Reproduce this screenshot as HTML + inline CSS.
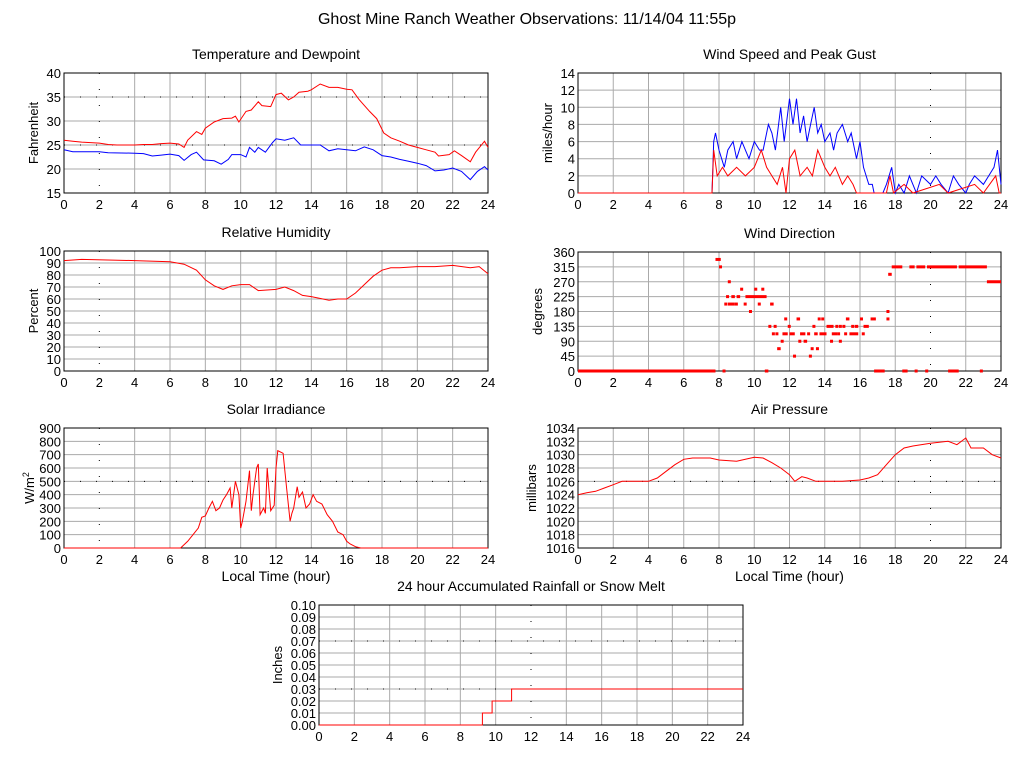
<!DOCTYPE html>
<html><head><meta charset="utf-8"><style>
body{margin:0;background:#fff;}
svg{display:block;font-family:"Liberation Sans",sans-serif;}
</style></head><body>
<svg id="s" width="1024" height="768">
<text x="527" y="24" font-size="16" text-anchor="middle">Ghost Mine Ranch Weather Observations: 11/14/04 11:55p</text>
</svg>
<script>
const tempHours=[0,.5,1,1.5,2,2.5,3,3.5,4,4.5,5,5.5,6,6.5,6.8,7,7.5,7.8,8,8.5,9,9.5,9.7,9.9,10.3,10.6,11,11.2,11.7,12,12.3,12.7,13,13.3,13.8,14,14.5,15,15.5,16,16.3,16.7,17.3,17.7,18.1,18.5,19,19.5,20,20.5,21,21.2,21.8,22.1,22.5,23,23.3,23.8,24];
const tempVals=[26,25.8,25.6,25.5,25.4,25.1,25,25,25,25.1,25.1,25.3,25.4,25.2,24.5,26,27.8,27.2,28.5,29.8,30.5,30.6,31,29.8,32,32.3,34,33.2,33,35.5,35.8,34.4,35,36,36.2,36.5,37.7,37,37,36.6,36.5,34.5,32,30.5,27.5,26.5,25.8,25,24.5,24,23.5,22.7,23,23.8,22.8,21.5,23.5,25.8,24.5];
const dewHours=[0,.5,1,2,2.5,4,4.5,5,5.5,6,6.5,6.8,7.2,7.5,7.9,8.5,8.9,9.3,9.5,10,10.3,10.5,10.8,11,11.4,11.8,12,12.5,13,13.4,14,14.5,15,15.5,16,16.5,17,17.5,18,18.5,19,19.5,20,20.5,21,21.5,22,22.5,23,23.4,23.8,24];
const dewVals=[24,23.6,23.6,23.6,23.4,23.3,23.2,22.7,22.9,23.1,22.8,21.8,23,23.5,21.9,21.7,21,22,23,23,22.5,24.5,23.5,24.5,23.5,25.5,26.3,26,26.5,25,25,25,23.8,24.2,24,23.8,24.6,24,22.8,22.5,22,21.6,21.2,20.7,19.6,19.8,20.2,19.5,17.8,19.5,20.5,19.8];
const rhHours=[0,1,4,6,6.8,7.5,8,8.5,9,9.5,10,10.5,11,12,12.5,13,13.5,14,15,15.5,16,16.5,17,17.5,18,18.5,19,20,21,22,23,23.5,24];
const rhVals=[92,93,92,91,89,84,76,71,68,71,72,72,67,68,70,67,63,62,59,60,60,65,72,79,84,86,86,87,87,88,86,87,81];
const gustHours=[0,7.6,7.7,7.8,8,8.3,8.5,8.8,9,9.3,9.5,9.7,10,10.3,10.5,10.8,11,11.2,11.5,11.7,12,12.2,12.4,12.6,12.8,13,13.2,13.4,13.6,13.8,14,14.3,14.5,14.7,15,15.3,15.5,15.8,16,16.2,16.5,16.7,16.8,17.3,17.5,17.8,18,18.2,18.5,18.8,19,19.2,19.5,20,20.3,20.6,21,21.3,21.6,22,22.2,22.5,23,23.3,23.6,23.8,24];
const gustVals=[0,0,6,7,5,3,5,6,4,6,5,4,6,5,5,8,7,5,10,6,11,8,11,7,9,6,8,10,7,8,6,7,5,7,8,6,7,4,6,3,1,1,0,0,1,3,0,1,0,2,1,0,2,1,2,1,0,2,1,0,1,2,1,2,3,5,1];
const speedHours=[0,7.6,7.7,7.9,8.2,8.5,9,9.5,10,10.4,10.7,11,11.3,11.6,11.8,12,12.3,12.6,13,13.3,13.6,14,14.3,14.6,15,15.3,15.6,15.8,17.5,17.7,17.9,18.5,19,20.5,21,22.5,23,23.7,23.9,24];
const speedVals=[0,0,5,2,3,2,3,2,3,5,3,2,1,3,0,4,5,2,3,2,5,3,2,3,1,2,1,0,0,2,0,1,0,1,0,1,0,2,0,0];
const dirStart=[0,7.8,8,8.2,8.3,8.4,8.5,8.5,8.7,8.9,9,9.2,9.4,9.5,9.7,10,10.2,10.4,10.6,10.8,10.9,11,11.1,11.2,11.3,11.5,11.6,11.7,11.9,12,12.2,12.4,12.5,12.6,12.8,13,13.1,13.2,13.3,13.4,13.5,13.6,13.7,13.8,14.1,14.3,14.4,14.6,14.7,14.8,14.8,15,15.1,15.2,15.4,15.5,15.7,16,16.1,16.2,16.6,16.8,17.5,17.5,17.6,17.8,18.4,18.8,19.1,19.2,19.7,19.8,21,21.6,22.8,23.2];
const dirEnd=[7.8,8.1,8.05,8.3,8.35,8.5,8.55,8.9,8.9,9,9.2,9.35,9.45,10.7,9.75,10.1,10.3,10.5,10.8,10.85,11.1,11.05,11.2,11.3,11.5,11.55,11.9,11.8,12,12.3,12.3,12.6,12.55,12.9,13,13.05,13.2,13.25,13.35,13.6,13.6,13.65,14.1,13.9,14.5,14.35,14.7,14.65,14.75,14.9,14.85,15.1,15.15,15.4,15.9,15.55,15.9,16.1,16.15,16.5,16.9,17.4,17.6,17.55,17.8,18.4,18.7,19.1,19.15,19.7,19.85,21.5,21.6,23.2,22.85,24];
const dirVals=[0,337.5,315,0,202.5,225,270,202.5,225,202.5,225,247.5,202.5,225,180,247.5,202.5,247.5,0,135,202.5,112.5,135,112.5,67.5,90,112.5,157.5,135,112.5,45,157.5,90,112.5,90,112.5,45,67.5,135,112.5,67.5,157.5,112.5,157.5,135,90,112.5,135,112.5,90,135,135,112.5,157.5,112.5,135,135,157.5,112.5,135,157.5,0,157.5,180,292.5,315,0,315,0,315,0,315,0,315,0,270];
const solarHours=[0,6.6,7,7.3,7.6,7.8,8,8.2,8.4,8.6,8.8,9,9.2,9.4,9.5,9.7,9.9,10,10.1,10.3,10.5,10.6,10.7,10.9,11,11.1,11.3,11.4,11.5,11.7,11.9,12,12.1,12.4,12.6,12.8,12.9,13,13.2,13.3,13.5,13.7,13.9,14.1,14.3,14.6,14.9,15.2,15.5,15.8,16,16.2,16.5,16.8,24];
const solarVals=[0,0,50,100,150,230,240,300,350,280,300,360,400,450,300,500,400,150,200,350,580,280,400,600,630,250,300,260,600,280,320,600,730,710,450,200,260,300,460,380,420,300,330,400,350,330,250,200,120,100,50,30,10,0,0];
const presHours=[0,.5,1,1.5,2,2.5,3,4,4.5,5,5.5,6,6.5,7,7.5,8,9,9.5,10,10.5,11,11.5,12,12.3,12.7,13,13.5,14,15,16,16.5,17,17.5,18,18.5,19,20,21,21.5,22,22.3,23,23.5,24];
const presVals=[1024,1024.3,1024.5,1025,1025.5,1026,1026,1026,1026.5,1027.5,1028.5,1029.3,1029.5,1029.5,1029.5,1029.2,1029,1029.3,1029.6,1029.5,1028.8,1028,1027,1026,1026.7,1026.5,1026,1026,1026,1026.2,1026.5,1027,1028.5,1030,1031,1031.3,1031.7,1032,1031.5,1032.5,1031,1031,1030,1029.5];
const rainHours=[0,9.25,9.25,9.8,9.8,10.9,10.9,24];
const rainVals=[0,0,0.01,0.01,0.02,0.02,0.03,0.03];
const xTicks=[0,2,4,6,8,10,12,14,16,18,20,22,24];

const NS='http://www.w3.org/2000/svg';
const svg=document.getElementById('s');
function mk(tag,attrs,parent,text){const e=document.createElementNS(NS,tag);for(const k in attrs)e.setAttribute(k,attrs[k]);if(text!==undefined)e.textContent=text;(parent||svg).appendChild(e);return e;}

function chart(c){
  const g=mk('g',{});
  
  
  const sx=h=>c.x0+(h/24)*(c.x1-c.x0);
  const sy=v=>c.y1-(v-c.ymin)/(c.ymax-c.ymin)*(c.y1-c.y0);
  c.sx=sx;c.sy=sy;
  const t=mk('text',{x:(c.x0+c.x1)/2,y:c.y0-14,'font-size':14,'text-anchor':'middle'},g,c.title);
  
  
  for(const v of c.yt){
    const y=sy(v);
    const l=mk('line',{x1:c.x0,x2:c.x1,y1:y,y2:y,stroke:'#aaa','stroke-width':1},g);
    
    
    const tl=mk('text',{x:c.x0-3,y:y+5,'font-size':13,'text-anchor':'end'},g,c.fmt?c.fmt(v):String(v));
    
    
  }
  for(const h of xTicks){
    const x=sx(h);
    const l=mk('line',{x1:x,x2:x,y1:c.y0,y2:c.y1,stroke:h===c.dot?'#000':'#aaa','stroke-width':1,'stroke-dasharray':h===c.dot?'1 15':'none'},g);
    
    
    const tl=mk('text',{x:x,y:c.y1+16,'font-size':13,'text-anchor':'middle'},g,String(h));
    
    
  }
  for(const v of (c.hdots||[])){
    const y=sy(v);
    const l=mk('line',{x1:c.x0,x2:c.x1,y1:y,y2:y,stroke:'#000','stroke-width':1,'stroke-dasharray':'1 15'},g);
    
    
  }
  const b=mk('rect',{x:c.x0,y:c.y0,width:c.x1-c.x0,height:c.y1-c.y0,fill:'none',stroke:'#000'},g);
  
  
  const yl=mk('text',{x:0,y:0,'font-size':13,'text-anchor':'middle',transform:`translate(${c.ylx},${(c.y0+c.y1)/2}) rotate(-90)`},g);
  yl.innerHTML=c.ylabel;
  
  
  if(c.xlabel){const xl=mk('text',{x:(c.x0+c.x1)/2,y:c.y1+33,'font-size':14,'text-anchor':'middle'},g,c.xlabel);
    
    }
  c.g=g;return c;
}
function line(c,hs,vs,color,name){
  const pts=hs.map((h,i)=>c.sx(h).toFixed(1)+','+c.sy(vs[i]).toFixed(1)).join(' ');
  const p=mk('polyline',{points:pts,fill:'none',stroke:color,'stroke-width':1},c.g);
  
  
}
const rng=(a,b,s)=>{const r=[];for(let v=a;v<=b+1e-9;v+=s)r.push(+v.toFixed(4));return r;};

const L0=64,L1=488,R0=578,R1=1001;
const t=chart({name:'temperature-chart',title:'Temperature and Dewpoint',x0:L0,x1:L1,y0:73,y1:193,ymin:15,ymax:40,yt:rng(15,40,5),ylabel:'Fahrenheit',ylx:38,dot:2,hdots:[35,25]});
line(t,tempHours,tempVals,'#f00','temperature-line');
line(t,dewHours,dewVals,'#00f','dewpoint-line');
const w=chart({name:'wind-speed-chart',title:'Wind Speed and Peak Gust',x0:R0,x1:R1,y0:73,y1:193,ymin:0,ymax:14,yt:rng(0,14,2),ylabel:'miles/hour',ylx:552,dot:20});
line(w,gustHours,gustVals,'#00f','gust-line');
line(w,speedHours,speedVals,'#f00','speed-line');
const r=chart({name:'humidity-chart',title:'Relative Humidity',x0:L0,x1:L1,y0:251,y1:371,ymin:0,ymax:100,yt:rng(0,100,10),ylabel:'Percent',ylx:38,dot:2});
line(r,rhHours,rhVals,'#f00','humidity-line');
const d=chart({name:'wind-direction-chart',title:'Wind Direction',x0:R0,x1:R1,y0:252,y1:371,ymin:0,ymax:360,yt:rng(0,360,45),ylabel:'degrees',ylx:542,dot:20});
dirVals.forEach((v,i)=>{
  const xa=d.sx(dirStart[i]),xb=d.sx(dirEnd[i]);
  const m=mk('rect',{x:xa,y:d.sy(v)-1.5,width:Math.max(3,xb-xa),height:3,fill:'#f00'},d.g);
  
  
});
const so=chart({name:'solar-chart',title:'Solar Irradiance',x0:L0,x1:L1,y0:428,y1:548,ymin:0,ymax:900,yt:rng(0,900,100),ylabel:'W/m<tspan baseline-shift="super" font-size="9">2</tspan>',ylx:34,dot:2,xlabel:'Local Time (hour)',hdots:[500]});
line(so,solarHours,solarVals,'#f00','solar-line');
const p=chart({name:'pressure-chart',title:'Air Pressure',x0:R0,x1:R1,y0:428,y1:548,ymin:1016,ymax:1034,yt:rng(1016,1034,2),ylabel:'millibars',ylx:536,dot:20,xlabel:'Local Time (hour)',hdots:[1026]});
line(p,presHours,presVals,'#f00','pressure-line');
const rn=chart({name:'rainfall-chart',title:'24 hour Accumulated Rainfall or Snow Melt',x0:319,x1:743,y0:605,y1:725,ymin:0,ymax:0.1,yt:rng(0,0.1,0.01),fmt:v=>v.toFixed(2),ylabel:'Inches',ylx:282,dot:12,hdots:[0.07,0.03]});
line(rn,rainHours,rainVals,'#f00','rainfall-line');
</script>
</body></html>
